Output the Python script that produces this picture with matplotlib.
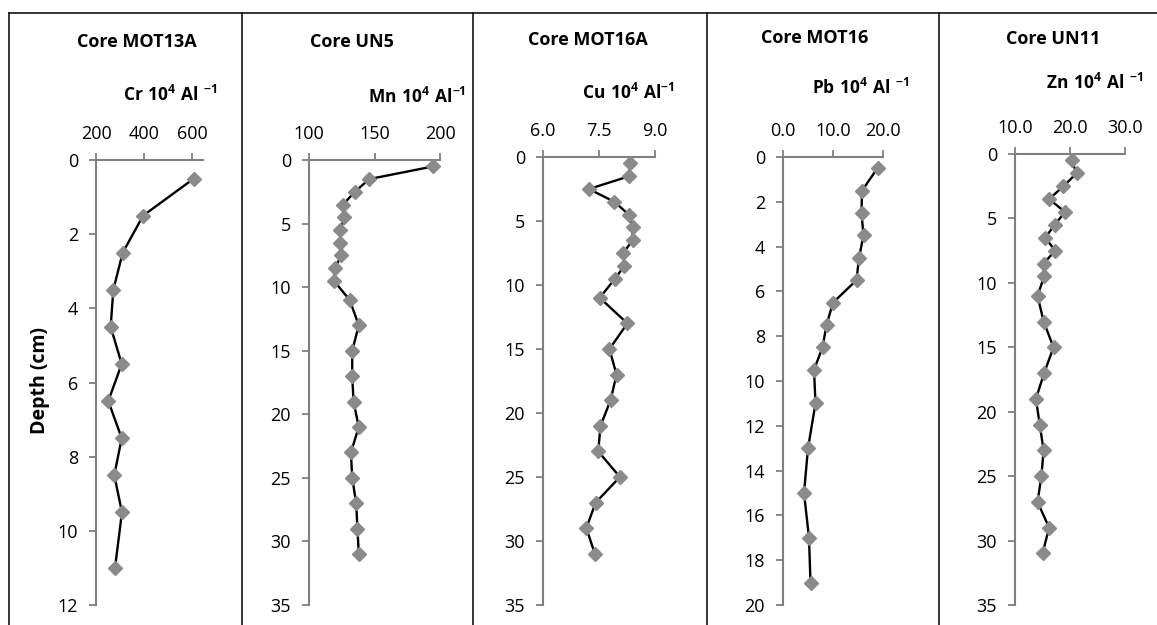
import matplotlib
matplotlib.use("Agg")
import matplotlib.pyplot as plt
from matplotlib.lines import Line2D

plt.rcParams['font.family'] = ['Open Sans', 'DejaVu Sans']
plt.rcParams['mathtext.fontset'] = 'custom'
plt.rcParams['mathtext.rm'] = 'Open Sans'
plt.rcParams['mathtext.bf'] = 'Open Sans:bold'

# depths (cm)
depth_11 = [0.5, 1.5, 2.5, 3.5, 4.5, 5.5, 6.5, 7.5, 8.5, 9.5, 11]
depth_31 = [0.5, 1.5, 2.5, 3.5, 4.5, 5.5, 6.5, 7.5, 8.5, 9.5,
            11, 13, 15, 17, 19, 21, 23, 25, 27, 29, 31]
depth_19 = [0.5, 1.5, 2.5, 3.5, 4.5, 5.5, 6.5, 7.5, 8.5, 9.5, 11, 13, 15, 17, 19]

# element / Al ratios
cr_mot13a = [607, 396, 311, 272, 261, 307, 251, 307, 276, 308, 279]
mn_un5 = [195, 146, 135, 126, 127, 124, 124, 124.5, 120, 119, 131,
          138, 133, 133, 134, 138, 132, 133, 136, 137, 138]
cu_mot16a = [8.33, 8.31, 7.23, 7.91, 8.30, 8.40, 8.40, 8.15, 8.18, 7.93, 7.52,
             8.26, 7.78, 7.97, 7.81, 7.54, 7.48, 8.06, 7.41, 7.16, 7.39]
pb_mot16 = [18.9, 15.8, 15.7, 16.1, 15.2, 14.7, 10.0, 8.7, 7.9, 6.2, 6.5,
            5.0, 4.2, 5.2, 5.5]
zn_un11 = [20.3, 21.2, 18.8, 16.2, 19.1, 17.2, 15.5, 17.3, 15.2, 15.3, 14.1,
           15.2, 17.0, 15.3, 13.8, 14.5, 15.2, 14.8, 14.1, 16.2, 15.0]

W, H = 1157, 625
fig = plt.figure(figsize=(W / 100, H / 100), dpi=100)

axis_grey = '#808080'
marker_grey = '#8a8a8a'

panels = [
    # title, label, values, depths, xlim, xticks, fmt, ymax, ystep, axes box (px), title pos, label pos
    ('Core MOT13A', r'$\mathbf{Cr\ 10^{4}\ Al\ ^{-1}}$', cr_mot13a, depth_11,
     (200, 645), [200, 400, 600], '{:.0f}', 12, 2, (96, 160, 203, 605), (137, 42), (170, 95)),
    ('Core UN5', r'$\mathbf{Mn\ 10^{4}\ Al^{-1}}$', mn_un5, depth_31,
     (100, 200), [100, 150, 200], '{:.0f}', 35, 5, (309, 160, 440, 605), (352, 42), (417, 97)),
    ('Core MOT16A', r'$\mathbf{Cu\ 10^{4}\ Al^{-1}}$', cu_mot16a, depth_31,
     (6, 9), [6.0, 7.5, 9.0], '{:.1f}', 35, 5, (543, 157, 655, 605), (588, 40), (628, 93)),
    ('Core MOT16', r'$\mathbf{Pb\ 10^{4}\ Al\ ^{-1}}$', pb_mot16, depth_19,
     (0, 20), [0, 10, 20], '{:.1f}', 20, 2, (783, 157, 883, 605), (815, 38), (861, 88)),
    ('Core UN11', r'$\mathbf{Zn\ 10^{4}\ Al\ ^{-1}}$', zn_un11, depth_31,
     (10, 30), [10, 20, 30], '{:.1f}', 35, 5, (1015, 154, 1125, 605), (1053, 39), (1095, 83)),
]

for title, label, vals, depth, xlim, xticks, fmt, ymax, ystep, box, tpos, lpos in panels:
    x0, y0, x1, y1 = box
    ax = fig.add_axes([x0 / W, 1 - y1 / H, (x1 - x0) / W, (y1 - y0) / H])
    ax.plot(vals, depth, color='black', lw=1.7, marker='D', markersize=7,
            markerfacecolor=marker_grey, markeredgecolor=marker_grey, zorder=3,
            clip_on=False)
    ax.set_xlim(*xlim)
    ax.set_ylim(ymax, 0)
    ax.set_xticks(xticks)
    ax.set_xticklabels([fmt.format(t) for t in xticks])
    ax.set_yticks(range(0, ymax + 1, ystep))
    ax.xaxis.tick_top()
    for s in ['right', 'bottom']:
        ax.spines[s].set_visible(False)
    for s in ['top', 'left']:
        ax.spines[s].set_color(axis_grey)
        ax.spines[s].set_linewidth(1.5)
    ax.tick_params(axis='both', direction='out', length=5, width=1.3,
                   color=axis_grey, labelsize=13, labelcolor='black')
    ax.tick_params(axis='y', pad=8)
    ax.tick_params(axis='x', pad=7)
    ax.patch.set_visible(False)
    fig.text(tpos[0] / W, 1 - tpos[1] / H, title, ha='center', va='center',
             fontsize=13, fontweight='bold')
    fig.text(lpos[0] / W, 1 - lpos[1] / H, label, ha='center', va='center',
             fontsize=12.5)

fig.text(40 / W, 1 - 381 / H, 'Depth (cm)', rotation=90, ha='center', va='center',
         fontsize=14, fontweight='bold')

# panel frame: top line plus vertical dividers, open at the right and bottom
top = 1 - 12.7 / H
fig.add_artist(Line2D((9 / W, 1.0), (top, top), color='black', lw=1.1,
                      transform=fig.transFigure))
for xd in [9, 242, 473, 707, 939]:
    fig.add_artist(Line2D((xd / W, xd / W), (0, top), color='black', lw=1.1,
                          transform=fig.transFigure))

fig.savefig('out.png', dpi=100)
